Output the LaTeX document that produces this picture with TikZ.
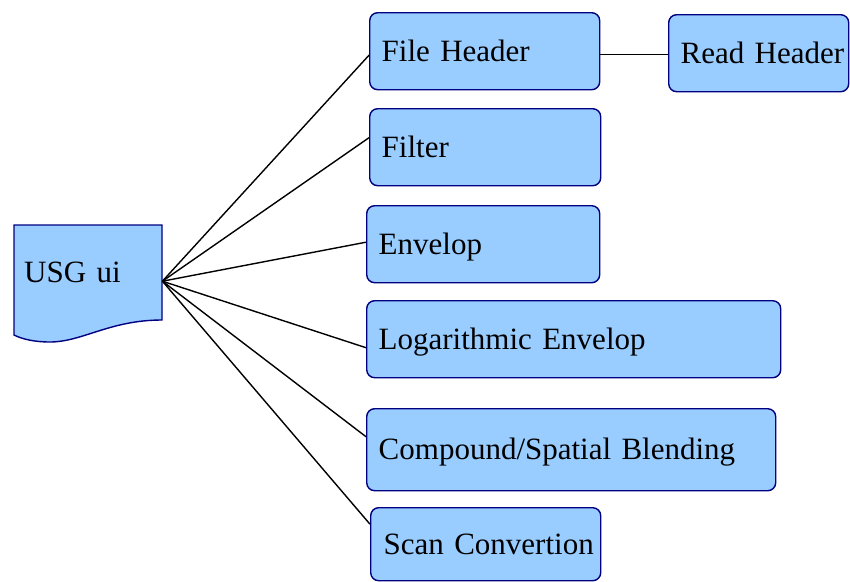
\documentclass[tikz,border=0pt]{standalone}
\usepackage{fontspec}
\setmainfont{Liberation Serif}
\definecolor{boxfill}{RGB}{153,204,255}
\definecolor{boxline}{RGB}{0,0,128}
\begin{document}
\begin{tikzpicture}
[x=1pt,y=-1pt,font=\fontsize{31}{37}\selectfont,
  stagedecorate/.style={shape=rectangle,rounded corners=8pt,draw=boxline,fill=boxfill,
    line width=1.4pt,anchor=north west,inner xsep=12pt,inner ysep=0pt,align=left,
    text height=20pt,text depth=0pt},%
  docdecorate/.style={draw=boxline,fill=boxfill,line width=1.4pt},%
  linedecorate/.style={-,line width=1.4pt}]
\useasboundingbox (0,0) rectangle (850,581);
% document shape
\draw[docdecorate] (14,225) -- (162,225) -- (162,320)
  .. controls (110,320) and (82,342) .. (50,342)
  .. controls (34,342) and (22,339) .. (14,335) -- cycle;
\node (usg) at (14,225) [anchor=north west,minimum width=148pt,minimum height=95pt,
  inner xsep=10pt,text width=128pt,align=left,text height=20pt,text depth=0pt] {USG ui};
% stages
\node (fh) at (369,12) [stagedecorate,text width=206pt,minimum height=77pt] {File Header};
\node (rh) at (668,14) [stagedecorate,inner xsep=12pt,text width=156pt,minimum height=77pt] {\mbox{Read Header}};
\node (flt) at (369,108) [stagedecorate,text width=207pt,minimum height=77pt] {Filter};
\node (env) at (366,205) [stagedecorate,text width=209pt,minimum height=77pt] {Envelop};
\node (log) at (366,300) [stagedecorate,text width=390pt,minimum height=77pt] {Logarithmic Envelop};
\node (cmp) at (366,408) [stagedecorate,text width=385pt,minimum height=82pt] {Compound/Spatial Blending};
\node (scn) at (370,507) [stagedecorate,inner xsep=13pt,text width=204pt,minimum height=73pt] {\mbox{Scan Convertion}};
% edges
\path
([yshift=-8.5pt]usg.east) edge[linedecorate] ([yshift=-4pt]fh.west)
([yshift=-8.5pt]usg.east) edge[linedecorate] ([yshift=9.5pt]flt.west)
([yshift=-8.5pt]usg.east) edge[linedecorate] ([yshift=2pt]env.west)
([yshift=-8.5pt]usg.east) edge[linedecorate] ([yshift=-8.5pt]log.west)
([yshift=-8.5pt]usg.east) edge[linedecorate] ([yshift=13pt]cmp.west)
([yshift=-8.5pt]usg.east) edge[linedecorate] ([yshift=20pt]scn.west)
([yshift=-3pt]fh.east) edge[linedecorate] ([yshift=-3pt]fh.east -| rh.west);
\end{tikzpicture}
\end{document}
